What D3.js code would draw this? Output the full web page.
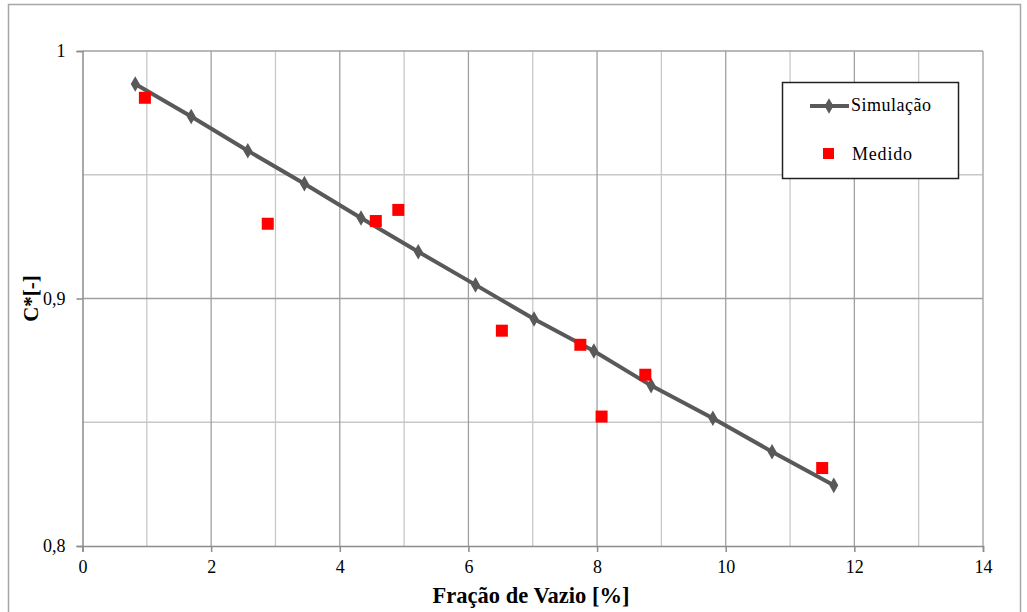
<!DOCTYPE html>
<html>
<head>
<meta charset="utf-8">
<script src="https://cdn.jsdelivr.net/npm/d3@7"></script>
<style>
  html, body { margin: 0; padding: 0; background: #fff; }
  svg { display: block; }
  text { font-family: "Liberation Serif", "Times New Roman", serif; }
</style>
</head>
<body>
<script>
// Simulated curve (void fraction [%] vs C*)
const simX = [0.82, 1.69, 2.57, 3.45, 4.33, 5.22, 6.11, 7.02, 7.95, 8.84, 9.80, 10.72, 11.68];
const simY = [0.9867, 0.9735, 0.9597, 0.9464, 0.9325, 0.9189, 0.9055, 0.8917, 0.8788, 0.8648, 0.8516, 0.8381, 0.8245];
// Measured points
const medX = [0.97, 2.88, 4.56, 4.91, 6.52, 7.74, 8.07, 8.75, 11.50];
const medY = [0.9811, 0.9302, 0.9313, 0.9358, 0.8870, 0.8813, 0.8523, 0.8692, 0.8315];

const xTicks = [0, 2, 4, 6, 8, 10, 12, 14];
const yTicks = [0.8, 0.9, 1];
const xLabel = "Fração de Vazio [%]";
const yLabel = "C*[-]";
const seriesNames = ["Simulação", "Medido"];

const W = 1027, H = 612;
const plotL = 82.5, plotR = 983, plotT = 51, plotB = 546;

const svg = d3.select("body").append("svg").attr("width", W).attr("height", H);

// Outer chart frame
svg.append("rect").attr("x", 8.5).attr("y", 4.5).attr("width", 1012).attr("height", 640)
  .attr("fill", "#fff").attr("stroke", "#a6a6a6").attr("stroke-width", 1.5);

const x = d3.scaleLinear().domain([0, 14]).range([plotL, plotR]);
const y = d3.scaleLinear().domain([0.8, 1]).range([plotB, plotT]);

// Gridlines: minor first, then major
const g = svg.append("g");
d3.range(1, 15, 2).forEach(v => {
  g.append("line").attr("x1", x(v)).attr("x2", x(v)).attr("y1", plotT).attr("y2", plotB)
    .attr("stroke", "#c8c8c8").attr("stroke-width", 1.3);
});
[0.85, 0.95].forEach(v => {
  g.append("line").attr("x1", plotL).attr("x2", plotR).attr("y1", y(v)).attr("y2", y(v))
    .attr("stroke", "#c8c8c8").attr("stroke-width", 1.3);
});
d3.range(2, 15, 2).forEach(v => {
  g.append("line").attr("x1", x(v)).attr("x2", x(v)).attr("y1", plotT).attr("y2", plotB)
    .attr("stroke", "#a0a0a0").attr("stroke-width", 1.3);
});
[0.9, 1].forEach(v => {
  g.append("line").attr("x1", plotL).attr("x2", plotR).attr("y1", y(v)).attr("y2", y(v))
    .attr("stroke", "#a0a0a0").attr("stroke-width", 1.3);
});

// Axes
const fmt = d => d === 1 ? "1" : d3.format(".1f")(d).replace(".", ",");
const xAxis = svg.append("g").attr("transform", `translate(0,${plotB})`)
  .call(d3.axisBottom(x).tickValues(xTicks).tickSize(6).tickPadding(8));
const yAxis = svg.append("g").attr("transform", `translate(${plotL},0)`)
  .call(d3.axisLeft(y).tickValues(yTicks).tickFormat(fmt).tickSize(6).tickPadding(11));
[xAxis, yAxis].forEach(a => {
  a.attr("font-size", 18).attr("font-family", "'Liberation Serif', serif");
  a.select(".domain").attr("stroke", "#8c8c8c").attr("stroke-width", 1.5);
  a.selectAll(".tick line").attr("stroke", "#8c8c8c").attr("stroke-width", 1.5);
  a.selectAll(".tick text").attr("fill", "#000");
});

// Axis titles
svg.append("text").attr("x", 531).attr("y", 603).attr("text-anchor", "middle")
  .style("font-size", "22.5px").style("font-weight", "bold").text(xLabel);
svg.append("text").attr("transform", `translate(38,${y(0.9)}) rotate(-90)`)
  .attr("text-anchor", "middle").style("font-size", "21px").style("font-weight", "bold").text(yLabel);

// Simulation line with diamond markers
const simData = simX.map((v, i) => [v, simY[i]]);
svg.append("path").datum(simData)
  .attr("d", d3.line().x(d => x(d[0])).y(d => y(d[1])))
  .attr("fill", "none").attr("stroke", "#595959").attr("stroke-width", 4);
const diamond = d3.symbol().type(d3.symbolDiamond).size(70);
svg.append("g").selectAll("path").data(simData).join("path")
  .attr("d", diamond).attr("transform", d => `translate(${x(d[0])},${y(d[1])})`)
  .attr("fill", "#595959");

// Measured squares
const medData = medX.map((v, i) => [v, medY[i]]);
const sq = 12;
svg.append("g").selectAll("rect").data(medData).join("rect")
  .attr("x", d => x(d[0]) - sq / 2).attr("y", d => y(d[1]) - sq / 2)
  .attr("width", sq).attr("height", sq).attr("fill", "#ff0000");

// Legend
const lg = svg.append("g");
lg.append("rect").attr("x", 782.5).attr("y", 82.5).attr("width", 176).attr("height", 96)
  .attr("fill", "#fff").attr("stroke", "#222").attr("stroke-width", 1.5);
lg.append("line").attr("x1", 810).attr("x2", 849).attr("y1", 106).attr("y2", 106)
  .attr("stroke", "#595959").attr("stroke-width", 4);
lg.append("path").attr("d", diamond).attr("transform", "translate(829,106)").attr("fill", "#595959");
lg.append("text").attr("x", 851).attr("y", 111).style("font-size", "18px").style("letter-spacing", "0.5px").text(seriesNames[0]);
lg.append("rect").attr("x", 823).attr("y", 148).attr("width", 11).attr("height", 11).attr("fill", "#ff0000");
lg.append("text").attr("x", 852).attr("y", 160).style("font-size", "18px").style("letter-spacing", "0.8px").text(seriesNames[1]);
</script>
</body>
</html>
